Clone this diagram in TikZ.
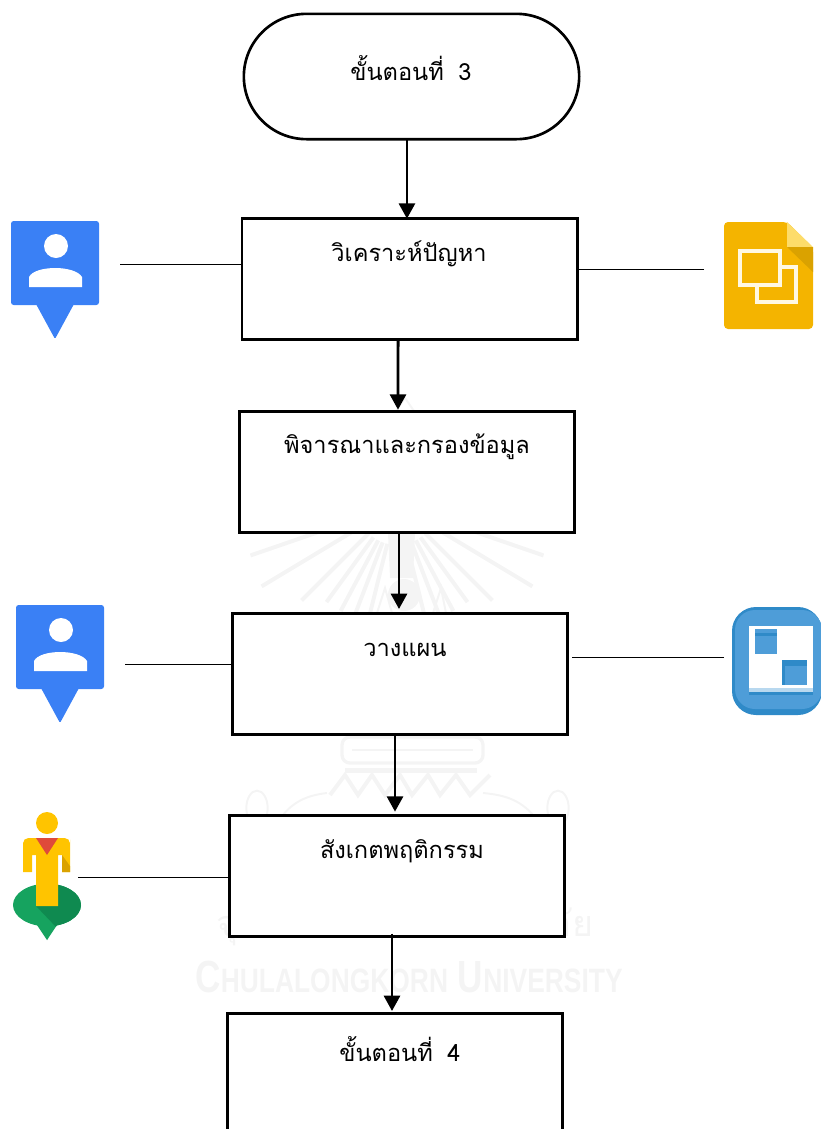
\documentclass[tikz,border=0pt]{standalone}
\usepackage{fontspec}
\newfontfamily\thaifont[Script=Thai]{Loma}
\newfontfamily\crestfont{Liberation Sans}
\usetikzlibrary{arrows.meta}
\definecolor{pinblue}{HTML}{3A80F5}
\definecolor{slideyellow}{HTML}{F4B400}
\definecolor{slidefold}{HTML}{FDDC6A}
\definecolor{slideshade}{HTML}{DAA200}
\definecolor{slidecream}{HTML}{FFF8E3}
\definecolor{planblue}{HTML}{4E9DD8}
\definecolor{plandark}{HTML}{2F8AC8}
\definecolor{pegyellow}{HTML}{FFC400}
\definecolor{pegred}{HTML}{DF4A3A}
\definecolor{peggreen}{HTML}{16A35F}
\definecolor{pegdark}{HTML}{0F8A50}
\definecolor{crestgrey}{gray}{0.955}
\tikzset{
    stepbox/.style = {draw, fill = white, line width = 2pt, minimum width = 251.5pt, minimum height = 90.5pt, outer sep = 0pt},
    startbox/.style = {stepbox, rounded corners = 47pt, minimum height = 94pt},
    steptext/.style = {font = \thaifont\fontsize{17.7}{21}\selectfont, inner sep = 0pt},
    flow/.style = {line width = 2.2pt, -{Triangle[length = 11.5pt, width = 12pt]}},
    link/.style = {line width = 0.75pt},
    crest/.style = {crestgrey, line width = 1.5pt},
    personpin/.pic = {
        \fill [pinblue, rounded corners = 2pt] (0, 0) rectangle (88, 84);
        \fill [pinblue, rounded corners = 1pt] (25, 83) -- (44, 118) -- (63, 83) -- cycle;
        \fill [white] (45, 25) circle [radius = 9pt];
        \fill [white] (18, 66) -- (18, 56) .. controls (24, 44) and (64, 44) .. (71, 56) -- (71, 66) -- cycle;
    },
    slidedoc/.pic = {
        \fill [slideyellow, rounded corners = 3pt] (0, 0) -- (63, 0) -- (89, 26) -- (89, 107) -- (0, 107) -- cycle;
        \fill [slidefold] (63, 0) -- (89, 25) -- (63, 25) -- cycle;
        \fill [slideshade] (63, 25) -- (89, 25) -- (89, 50) -- cycle;
        \draw [slidecream, line width = 3.4pt] (33, 45) rectangle (72, 80);
        \draw [slidecream, line width = 3.4pt, fill = slideyellow] (16, 29) rectangle (56, 63);
    },
    planblock/.pic = {
        \fill [plandark, rounded corners = 18pt] (0, 0) rectangle (90, 108);
        \fill [planblue, rounded corners = 15pt] (3, 3) rectangle (90, 102);
        \fill [white] (17, 19) rectangle (81, 85);
        \fill [planblue!40] (17, 81) rectangle (81, 85);
        \fill [plandark] (17, 85) rectangle (81, 88);
        \fill [planblue] (23, 22) rectangle (45, 47);
        \fill [plandark] (23, 26) rectangle (45, 29);
        \fill [plandark] (50, 53) rectangle (75, 78);
        \fill [planblue] (53, 59) rectangle (75, 78);
    },
    pegman/.pic = {
        \fill [peggreen] (35, 122) -- (47, 140) -- (59, 122) -- cycle;
        \fill [peggreen] (47, 105) ellipse [x radius = 25.5pt, y radius = 16pt];
        \begin{scope}
            \clip (47, 105) ellipse [x radius = 25.5pt, y radius = 16pt] (35, 122) -- (47, 140) -- (59, 122) -- cycle;
            \fill [pegdark] (36, 106) -- (57, 128) -- (47, 140) -- (90, 130) -- (90, 80) -- (47, 80) -- cycle;
        \end{scope}
        \fill [pegyellow] (47, 23) circle [radius = 8.25pt];
        \fill [pegyellow, rounded corners = 3pt] (23, 72) [sharp corners] -- (23, 45) [rounded corners = 4pt] -- (23, 38) -- (70, 38) -- (70, 45) [sharp corners] -- (70, 72) -- (62, 72) -- (62, 55) -- (58, 55) -- (58, 106) -- (36, 106) -- (36, 55) -- (32, 55) -- (32, 72) -- cycle;
        \fill [slideshade] (62, 55) -- (70, 66) -- (70, 72) -- (62, 72) -- cycle;
        \fill [pegred] (36, 38) -- (58, 38) -- (47, 55) -- cycle;
    }
}
\begin{document}
\begin{tikzpicture}[x = 0.75pt, y = -0.75pt]
    \useasboundingbox (0, 0) rectangle (821, 1129);

    % watermark
    \foreach \a/\r in {19/155, 31/158, 45/135, 54/120, 62/120, 69/115, 76/112} {
        \draw [crest, line width = 3pt] ({397 - \r*cos(\a)}, {505 + \r*sin(\a)}) -- ({397 - 40*cos(\a)}, {505 + 40*sin(\a)});
        \draw [crest, line width = 3pt] ({397 + \r*cos(\a)}, {505 + \r*sin(\a)}) -- ({397 + 40*cos(\a)}, {505 + 40*sin(\a)});
    }
    \fill [crestgrey] (388, 533) -- (415, 533) -- (413, 578) -- (390, 578) -- cycle;
    \fill [crestgrey] (404, 595) circle [radius = 12pt];
    \draw [crest] (377, 613) -- (385, 588) -- (392, 613) (433, 613) -- (441, 588) -- (446, 613);
    \draw [crest] (405, 398) -- (396, 411) (405, 398) -- (414, 411);
    \draw [crest, line width = 2.5pt, rounded corners = 6pt] (342, 737) rectangle (483, 763);
    \draw [crest] (352, 750) -- (473, 750);
    \fill [crestgrey] (345, 768) rectangle (477, 773);
    \draw [crest, line width = 3pt] (330, 795) -- (345, 775) -- (358, 795) -- (372, 775) -- (385, 795) -- (400, 775) -- (412, 795) -- (428, 775) -- (440, 795) -- (456, 775) -- (470, 795) -- (490, 775);
    \draw [crest] (283, 815) .. controls (295, 800) and (310, 795) .. (327, 793) (533, 815) .. controls (520, 800) and (505, 795) .. (483, 793);
    \draw [crest] (257, 808) ellipse [x radius = 8pt, y radius = 13pt] (558, 808) ellipse [x radius = 8pt, y radius = 13pt];
    \node [text = crestgrey, font = \thaifont\fontsize{27}{32}\selectfont, inner sep = 0pt] (thainame) at (405, 925) {จุฬาลงกรณ์มหาวิทยาลัย};
    \node [text = crestgrey, font = \crestfont\bfseries\fontsize{26.4}{30}\selectfont, inner sep = 0pt] (uniname) at (409, 977) {\scalebox{1}[1.28]{C\scalebox{0.75}{HULALONGKORN} U\scalebox{0.75}{NIVERSITY}}};

    % boxes
    \node [startbox] (start) at (411.5, 76.5) {};
    \node [stepbox] (analyse) at (409.5, 279) {};
    \node [stepbox] (filter) at (407, 472) {};
    \node [stepbox] (plan) at (400, 674) {};
    \node [stepbox] (observe) at (397, 876) {};
    \node [stepbox] (finish) at (395, 1074) {};

    \node [steptext] (starttext) at (411, 68) {ขั้นตอนที่ \hspace{5pt}3};
    \node [steptext] (analysetext) at (409, 254) {วิเคราะห์ปัญหา};
    \node [steptext] (filtertext) at (407, 447) {พิจารณาและกรองข้อมูล};
    \node [steptext] (plantext) at (405, 650) {วางแผน};
    \node [steptext] (observetext) at (402, 851) {สังเกตพฤติกรรม};
    \node [steptext] (finishtext) at (400, 1049) {ขั้นตอนที่ \hspace{5pt}4};

    % arrows down the middle
    \draw [flow] ([xshift = -3.4pt]start.south) -- ([xshift = -1.9pt]analyse.north);
    \draw [flow] ([xshift = -8.6pt]analyse.south) -- ([xshift = -6.75pt, yshift = 1.5pt]filter.north);
    \draw [flow] ([xshift = -6pt]filter.south) -- ([xshift = -0.75pt, yshift = 3.5pt]plan.north);
    \draw [flow] ([xshift = -3.75pt, yshift = -1.5pt]plan.south) -- ([xshift = -1.5pt, yshift = 3pt]observe.north);
    \draw [flow] ([xshift = -3.75pt, yshift = 2pt]observe.south) -- ([xshift = -2.25pt, yshift = 2pt]finish.north);

    % icons
    \pic at (11, 221) {personpin};
    \pic at (16, 605) {personpin};
    \pic at (724, 222) {slidedoc};
    \pic at (732, 607) {planblock};
    \pic at (0, 800) {pegman};

    % side lines
    \coordinate (pinone) at (120, 264);
    \coordinate (slides) at (704, 269);
    \coordinate (pintwo) at (125, 664);
    \coordinate (planner) at (724, 657);
    \coordinate (walker) at (78, 877);
    \draw [link] (pinone) -- (pinone -| analyse.west);
    \draw [link] (slides) -- (slides -| analyse.east);
    \draw [link] (pintwo) -- (pintwo -| plan.west);
    \draw [link] (planner) -- ([xshift = 3pt]planner -| plan.east);
    \draw [link] (walker) -- (walker -| observe.west);
\end{tikzpicture}
\end{document}
